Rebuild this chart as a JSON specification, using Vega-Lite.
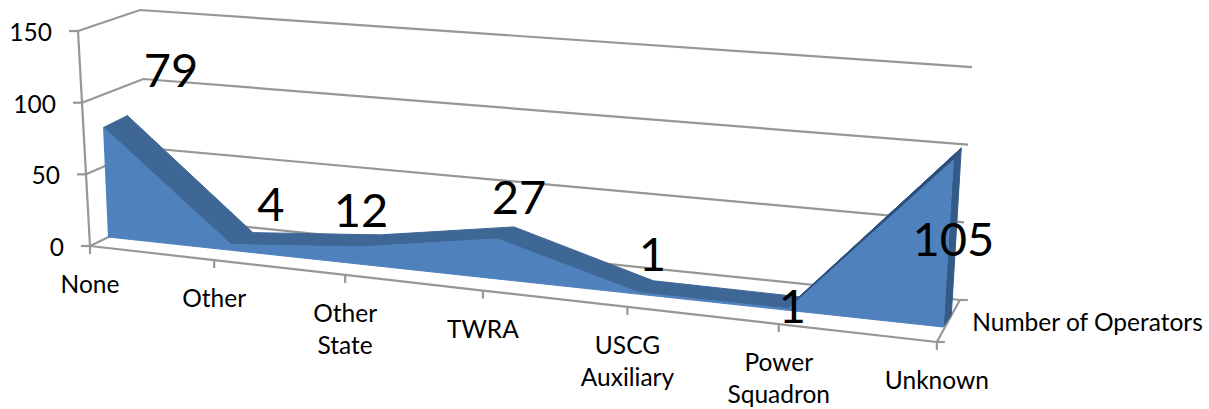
{
"$schema":"https://vega.github.io/schema/vega-lite/v6.json",
"width":1209,"height":409,"padding":0,"autosize":{"type":"fit","contains":"padding"},
"background":"white","view":{"stroke":null},
"datasets":{
"operators":[
{"category":"None","order":0,"value":79,"series":"Number of Operators"},
{"category":"Other","order":1,"value":4,"series":"Number of Operators"},
{"category":"Other State","order":2,"value":12,"series":"Number of Operators"},
{"category":"TWRA","order":3,"value":27,"series":"Number of Operators"},
{"category":"USCG Auxiliary","order":4,"value":1,"series":"Number of Operators"},
{"category":"Power Squadron","order":5,"value":1,"series":"Number of Operators"},
{"category":"Unknown","order":6,"value":105,"series":"Number of Operators"}],
"ticks":[{"tick":0},{"tick":50},{"tick":100},{"tick":150}]},
"data":{"name":"operators"},
"transform":[
{"calculate":"108+120.2*datum.order+3.17*datum.order*datum.order","as":"baseX"},
{"calculate":"(datum.baseX-108)/835","as":"t"},
{"calculate":"237+90*datum.t","as":"baseY"},
{"calculate":"datum.baseX+datum.value*(-0.063+0.158*datum.t)","as":"sx"},
{"calculate":"datum.baseY-datum.value*(1.39+0.2*datum.t)","as":"sy"},
{"calculate":"datum.sx+24-16*datum.t","as":"bx"},
{"calculate":"datum.sy-12","as":"by"},
{"calculate":"datum.baseX+24-16*datum.t","as":"bbx"},
{"calculate":"datum.baseY-12","as":"bby"},
{"calculate":"90+120.8*datum.order+3.39*datum.order*datum.order","as":"axX"},
{"calculate":"246+96*(datum.axX-90)/847","as":"axY"}
],
"encoding":{
"x":{"field":"px","type":"quantitative","axis":null,"scale":{"domain":[0,1209],"nice":false,"zero":false}},
"y":{"field":"py","type":"quantitative","axis":null,"scale":{"domain":[409,0],"nice":false,"zero":false}}
},
"layer":[
{"data":{"name":"ticks"},
"transform":[
{"calculate":"90-datum.tick*0.08","as":"ax"},{"calculate":"246-datum.tick*1.433","as":"ay"},
{"calculate":"150-datum.tick*0.067","as":"bx"},{"calculate":"217-datum.tick*1.38","as":"by"},
{"calculate":"960+datum.tick*0.08","as":"cx"},{"calculate":"300-datum.tick*1.553","as":"cy"},
{"fold":["ax","bx","cx"],"as":["corner","px"]},
{"calculate":"datum.corner=='ax'?datum.ay:datum.corner=='bx'?datum.by:datum.cy","as":"py"},
{"calculate":"indexof(['ax','bx','cx'],datum.corner)","as":"pos"}],
"mark":{"type":"line","stroke":"#979797","strokeWidth":2.2},
"encoding":{"detail":{"field":"tick"},"order":{"field":"pos","type":"quantitative"}}},
{"data":{"name":"ticks"},
"transform":[{"calculate":"90-datum.tick*0.08","as":"px"},{"calculate":"246-datum.tick*1.433","as":"py"}],
"mark":{"type":"line","stroke":"#979797","strokeWidth":2.2},
"encoding":{"order":{"field":"tick","type":"quantitative"}}},
{"data":{"name":"ticks"},
"transform":[{"calculate":"90-datum.tick*0.08","as":"px"},{"calculate":"datum.px-9","as":"px2"},{"calculate":"246-datum.tick*1.433","as":"py"}],
"mark":{"type":"rule","stroke":"#979797","strokeWidth":2.2},
"encoding":{"x2":{"field":"px2"}}},
{"data":{"name":"ticks"},
"transform":[{"calculate":"90-datum.tick*0.08-26","as":"px"},{"calculate":"246-datum.tick*1.433+3","as":"py"}],
"mark":{"type":"text","align":"right","baseline":"middle","font":"Lato","fontSize":24.5,"fill":"#000"},
"encoding":{"text":{"field":"tick","type":"quantitative"}}},
{"transform":[{"calculate":"datum.axX","as":"px"},{"calculate":"datum.axY","as":"py"}],
"mark":{"type":"line","stroke":"#979797","strokeWidth":2.2},
"encoding":{"order":{"field":"order","type":"quantitative"}}},
{"transform":[{"filter":"datum.order==6"},{"calculate":"datum.axX+23","as":"wx"},{"fold":["axX","wx"],"as":["corner","px"]},{"calculate":"datum.corner=='axX'?datum.axY:datum.axY-42","as":"py"}],
"mark":{"type":"line","stroke":"#979797","strokeWidth":2.2},
"encoding":{"order":{"field":"corner"}}},
{"transform":[{"filter":"datum.order==6"},{"calculate":"datum.axX+23","as":"wx"},{"fold":["axX","wx"],"as":["corner","px"]},{"calculate":"datum.corner=='axX'?datum.axY:datum.axY-42","as":"py"},{"calculate":"datum.px+8","as":"px2"}],
"mark":{"type":"rule","stroke":"#979797","strokeWidth":2.2},
"encoding":{"x2":{"field":"px2"}}},
{"transform":[{"calculate":"datum.axX","as":"px"},{"calculate":"datum.axY","as":"py"},{"calculate":"datum.axY+8","as":"py2"}],
"mark":{"type":"rule","stroke":"#979797","strokeWidth":2.2},
"encoding":{"y2":{"field":"py2"}}},
{"transform":[{"fold":["sx","bx"],"as":["side","px"]},{"calculate":"datum.side=='sx'?datum.sy:datum.by","as":"py"},{"calculate":"datum.side=='sx'?datum.order:13-datum.order","as":"pos"}],
"mark":{"type":"line","fill":"#3f6796","stroke":"#3f6796","strokeWidth":1},
"encoding":{"order":{"field":"pos","type":"quantitative"}}},
{"transform":[{"filter":"datum.order>=5"},{"fold":["sx","bx"],"as":["side","px"]},{"calculate":"datum.side=='sx'?datum.sy:datum.by","as":"py"},{"calculate":"datum.side=='sx'?datum.order:13-datum.order","as":"pos"}],
"mark":{"type":"line","fill":"#2c4f7c","stroke":"#2c4f7c","strokeWidth":1},
"encoding":{"order":{"field":"pos","type":"quantitative"}}},
{"transform":[{"filter":"datum.order==6"},{"fold":["sx","bx","bbx","baseX"],"as":["side","px"]},{"calculate":"datum.side=='sx'?datum.sy:datum.side=='bx'?datum.by:datum.side=='bbx'?datum.bby:datum.baseY","as":"py"},{"calculate":"indexof(['sx','bx','bbx','baseX'],datum.side)","as":"pos"}],
"mark":{"type":"line","fill":"#345a88","stroke":"#345a88","strokeWidth":1},
"encoding":{"order":{"field":"pos","type":"quantitative"}}},
{"transform":[{"fold":["sx","baseX"],"as":["side","px"]},{"calculate":"datum.side=='sx'?datum.sy:datum.baseY","as":"py"},{"calculate":"datum.side=='sx'?datum.order:13-datum.order","as":"pos"}],
"mark":{"type":"line","fill":"#4f81bd","stroke":"#4f81bd","strokeWidth":1},
"encoding":{"order":{"field":"pos","type":"quantitative"}}},
{"transform":[{"calculate":"datum.bx+[44,18,-19,5,-1,-7,-8][datum.order]","as":"px"},{"calculate":"datum.by+[-42,-26,-22,-27,-24,12,94][datum.order]","as":"py"}],
"mark":{"type":"text","align":"center","baseline":"middle","font":"Lato","fontSize":47,"fill":"#000"},
"encoding":{"text":{"field":"value","type":"quantitative"}}},
{"transform":[{"calculate":"datum.axX","as":"px"},{"calculate":"datum.axY+28","as":"py"}],
"mark":{"type":"text","align":"center","baseline":"top","lineBreak":" ","lineHeight":32,"font":"Lato","fontSize":24.5,"fill":"#000"},
"encoding":{"text":{"field":"category","type":"nominal"}}},
{"transform":[{"filter":"datum.order==6"},{"calculate":"datum.baseX+29","as":"px"},{"calculate":"datum.baseY-3","as":"py"}],
"mark":{"type":"text","align":"left","baseline":"middle","font":"Lato","fontSize":24.5,"fill":"#000"},
"encoding":{"text":{"field":"series","type":"nominal"}}}
]
}
